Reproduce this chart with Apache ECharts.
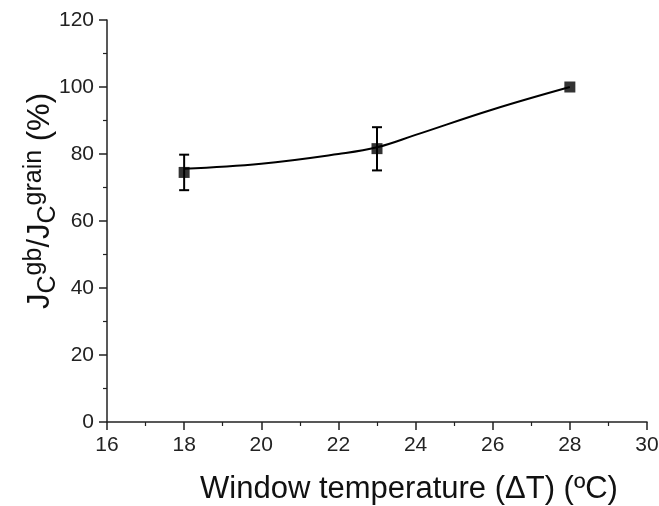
<!DOCTYPE html>
<html>
<head>
<meta charset="utf-8">
<script src="https://cdn.jsdelivr.net/npm/echarts@6/dist/echarts.min.js"></script>
<style>
  html, body { margin: 0; padding: 0; background: #fff; }
  #chart { width: 659px; height: 506px; }
</style>
</head>
<body>
<div id="chart"></div>
<script>
// measured points
var temps = [18, 23, 28];
var ratio = [74.5, 81.6, 100];
var errLow = [69.2, 75.1, 100];
var errHigh = [79.8, 88.0, 100];
// fitted curve
var curveX = [18, 20, 22, 23, 24, 26, 28];
var curveY = [75.6, 77.1, 80.0, 82.0, 85.7, 93.3, 100];

var font = "'Liberation Sans', Arial, sans-serif";
var chart = echarts.init(document.getElementById("chart"));

var axisCommon = {
  axisLine: { lineStyle: { color: "#222", width: 1.5 } },
  axisTick: { inside: false, length: 8, lineStyle: { color: "#222", width: 1.5 } },
  minorTick: { show: true, splitNumber: 2, length: 4, lineStyle: { color: "#222", width: 1.2 } },
  splitLine: { show: false },
  axisLabel: { color: "#222", fontSize: 21, fontFamily: font, margin: 13 }
};

chart.setOption({
  animation: false,
  grid: { left: 107, top: 20, right: 12, bottom: 84, outerBoundsMode: "none" },
  xAxis: Object.assign({}, axisCommon, {
    type: "value",
    min: 16,
    max: 30,
    interval: 2,
    name: "Window temperature (\u0394T) (\u00baC)",
    nameLocation: "middle",
    nameGap: 52,
    nameMoveOverlap: false,
    nameTextStyle: { color: "#111", fontSize: 31, fontFamily: font, padding: [0, 0, 0, 64] }
  }),
  yAxis: Object.assign({}, axisCommon, {
    type: "value",
    min: 0,
    max: 120,
    interval: 20,
    name: "{j|J}{sub|C}{sup|gb}{j|/J}{sub|C}{sup|grain}{j| (%)}",
    nameLocation: "middle",
    nameGap: 46,
    nameMoveOverlap: false,
    nameRotate: 90,
    nameTextStyle: {
      color: "#111",
      fontFamily: font,
      padding: [0, 0, 0, 40],
      rich: {
        j: { fontSize: 31, fontFamily: font, color: "#111" },
        sub: { fontSize: 25, fontFamily: font, color: "#111", padding: [16, 0, 0, 0] },
        sup: { fontSize: 25, fontFamily: font, color: "#111", padding: [0, 0, 12, 0] }
      }
    }
  }),
  series: [
    {
      type: "line",
      data: curveX.map(function (x, i) { return [x, curveY[i]]; }),
      smooth: 0.4,
      showSymbol: false,
      lineStyle: { color: "#000", width: 2 },
      z: 2
    },
    {
      type: "custom",
      data: temps.map(function (x, i) { return [x, errLow[i], errHigh[i]]; }),
      renderItem: function (params, api) {
        var lo = api.coord([api.value(0), api.value(1)]);
        var hi = api.coord([api.value(0), api.value(2)]);
        if (Math.abs(hi[1] - lo[1]) < 1) return null;
        var w = 5;
        var st = { stroke: "#000", lineWidth: 2 };
        return {
          type: "group",
          children: [
            { type: "line", shape: { x1: lo[0], y1: lo[1], x2: hi[0], y2: hi[1] }, style: st },
            { type: "line", shape: { x1: lo[0] - w, y1: lo[1], x2: lo[0] + w, y2: lo[1] }, style: st },
            { type: "line", shape: { x1: hi[0] - w, y1: hi[1], x2: hi[0] + w, y2: hi[1] }, style: st }
          ]
        };
      },
      z: 3
    },
    {
      type: "scatter",
      data: temps.map(function (x, i) { return [x, ratio[i]]; }),
      symbol: "rect",
      symbolSize: 11,
      itemStyle: { color: "#000" },
      z: 4
    }
  ]
});
</script>
</body>
</html>
